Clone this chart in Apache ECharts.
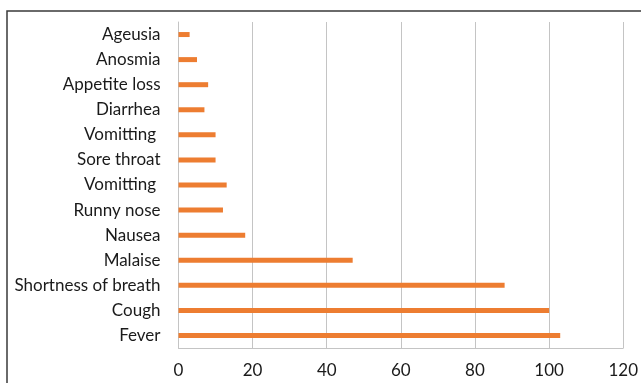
<!DOCTYPE html>
<html>
<head>
<meta charset="utf-8">
<script src="https://cdn.jsdelivr.net/npm/echarts@6/dist/echarts.min.js"></script>
<style>
  html, body { margin: 0; padding: 0; background: #fff; }
  #chart { width: 641px; height: 383px; }
</style>
</head>
<body>
<div id="chart"></div>
<script>
// Symptoms, listed top to bottom
const symptoms = [
  'Ageusia', 'Anosmia', 'Appetite loss', 'Diarrhea', 'Vomitting ',
  'Sore throat', 'Vomitting ', 'Runny nose', 'Nausea', 'Malaise',
  'Shortness of breath', 'Cough', 'Fever'
];
// Number of cases per symptom
const cases = [3, 5, 8, 7, 10, 10, 13, 12, 18, 47, 88, 100, 103];
// Value axis ticks
const xTicks = [0, 20, 40, 60, 80, 100, 120];

const chart = echarts.init(document.getElementById('chart'), null, { renderer: 'canvas' });
const fontFamily = 'Lato, "Open Sans", sans-serif';

chart.setOption({
  animation: false,
  backgroundColor: '#ffffff',
  graphic: [{
    type: 'rect',
    shape: { x: 7, y: 11, width: 700, height: 420 },
    style: { fill: 'none', stroke: '#3a3a3a', lineWidth: 1.5 },
    silent: true
  }],
  grid: { left: 178.5, right: 15, top: 22, bottom: 35 },
  xAxis: {
    type: 'value',
    min: xTicks[0],
    max: xTicks[xTicks.length - 1],
    interval: xTicks[1] - xTicks[0],
    axisLine: { show: true, lineStyle: { color: '#c4c4c4', width: 1 } },
    axisTick: { show: false },
    splitLine: { show: true, lineStyle: { color: '#c4c4c4', width: 1 } },
    axisLabel: { color: '#1a1a1a', fontSize: 17, fontFamily: fontFamily, margin: 14 }
  },
  yAxis: {
    type: 'category',
    inverse: true,
    data: symptoms,
    axisLine: { show: true, lineStyle: { color: '#c4c4c4', width: 1 } },
    axisTick: { show: false },
    axisLabel: { color: '#1a1a1a', fontSize: 17, fontFamily: fontFamily, margin: 18, interval: 0 }
  },
  series: [{
    type: 'bar',
    data: cases,
    barWidth: 5,
    itemStyle: { color: '#ED7D31' }
  }]
});
</script>
</body>
</html>
